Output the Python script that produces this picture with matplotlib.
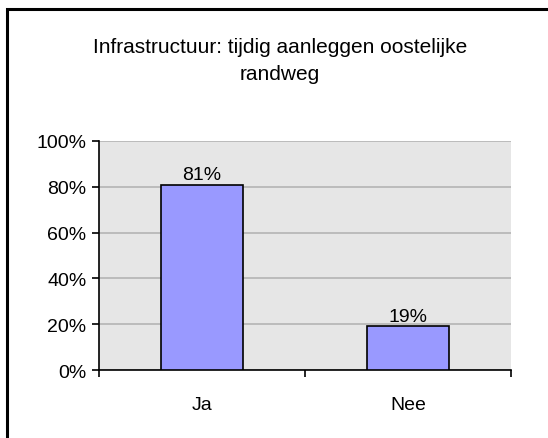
import matplotlib
matplotlib.use("Agg")
import matplotlib.pyplot as plt
from matplotlib.patches import Rectangle

categories = ["Ja", "Nee"]
values = [81, 19]
labels = ["81%", "19%"]
yticks = [0, 20, 40, 60, 80, 100]
ytick_labels = ["0%", "20%", "40%", "60%", "80%", "100%"]
title = "Infrastructuur: tijdig aanleggen oostelijke\nrandweg"

plt.rcParams['font.family'] = ['Liberation Sans', 'DejaVu Sans']

W, H = 548, 439
fig = plt.figure(figsize=(W/100, H/100), dpi=100)
fig.patch.set_facecolor('white')

# outer border (right/bottom off-canvas)
fig.patches.append(Rectangle((6.5/W, -0.05), 1.2, 1 - 9.5/H + 0.05, transform=fig.transFigure,
                             fill=False, edgecolor='black', linewidth=2.2, zorder=0))

ax = fig.add_axes([99/W, 1-371/H, (511-99)/W, (371-142)/H])
ax.set_facecolor('#e6e6e6')
x = [0.5, 1.5]
ax.bar(x, values, width=0.4, color='#9999ff', edgecolor='black', linewidth=1.2, zorder=3)
for xi, v, l in zip(x, values, labels):
    ax.text(xi, v + 0.8, l, ha='center', va='bottom', fontsize=14, zorder=4)
ax.set_xlim(0, 2)
ax.set_ylim(0, 100)
ax.set_yticks(yticks)
ax.set_yticklabels(ytick_labels, fontsize=14)
ax.yaxis.grid(True, color='#b4b4b4', linewidth=1.2, zorder=1)
ax.set_axisbelow(True)
ax.set_xticks([0, 1, 2])
ax.set_xticklabels([])
ax.set_xticks(x, minor=True)
ax.set_xticklabels(categories, minor=True, fontsize=14)
ax.tick_params(axis='x', which='minor', length=0, pad=19)
ax.tick_params(axis='x', which='major', length=5, width=1.2, direction='out')
ax.tick_params(axis='y', length=5, width=1.2, direction='out', pad=4)
for s in ['top', 'right']:
    ax.spines[s].set_visible(False)
for s in ['left', 'bottom']:
    ax.spines[s].set_linewidth(1.2)

fig.text(280/W, 1-61/H, title, ha='center', va='center', fontsize=15, linespacing=1.55)

fig.savefig("out.png", dpi=100)
